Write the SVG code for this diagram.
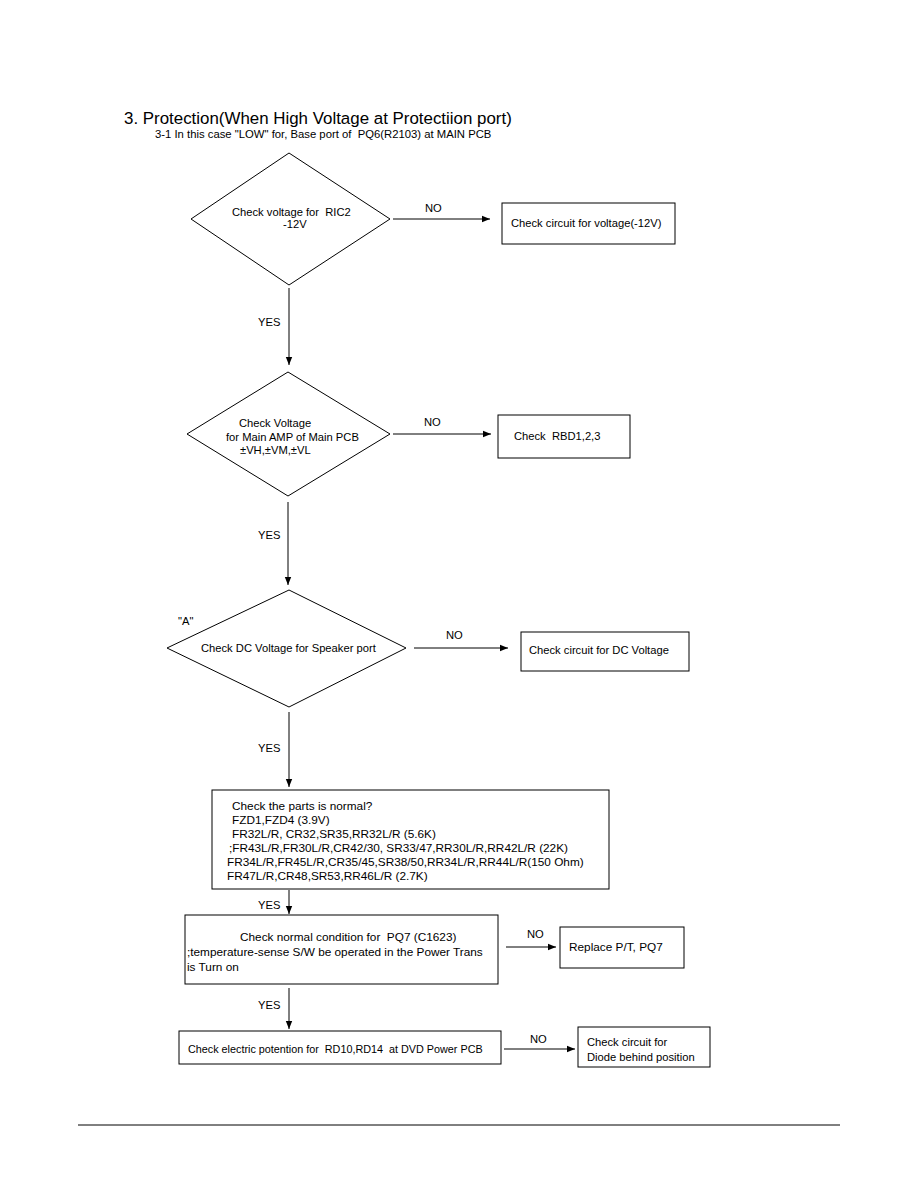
<svg xmlns="http://www.w3.org/2000/svg" width="918" height="1188" viewBox="0 0 918 1188">
<style>
text{font-family:"Liberation Sans",Arial,sans-serif;fill:#000;font-size:11.2px;white-space:pre}
.t{font-size:16.9px}
.s{font-size:11.3px}
.m{font-size:11.8px}
.n{fill:#fff;stroke:#000;stroke-width:1}
.c{stroke:#000;stroke-width:1;fill:none}
</style>
<defs>
<marker id="ah" viewBox="0 0 10 10" refX="10" refY="5" markerWidth="8" markerHeight="8" markerUnits="userSpaceOnUse" orient="auto">
<path d="M0,1 L10,5 L0,9 z" fill="#000"/>
</marker>
</defs>
<rect width="918" height="1188" fill="#fff"/>
<text class="t" x="124" y="124">3. Protection(When High Voltage at Protectiion port)</text>
<text class="s" x="155" y="138" xml:space="preserve">3-1 In this case "LOW" for, Base port of  PQ6(R2103) at MAIN PCB</text>

<g id="connectors">
<line class="c" x1="393" y1="219" x2="490" y2="219" marker-end="url(#ah)"/>
<line class="c" x1="289" y1="288" x2="289" y2="365" marker-end="url(#ah)"/>
<line class="c" x1="393" y1="434" x2="491" y2="434" marker-end="url(#ah)"/>
<line class="c" x1="288" y1="502" x2="288" y2="585" marker-end="url(#ah)"/>
<line class="c" x1="414" y1="648" x2="508" y2="648" marker-end="url(#ah)"/>
<line class="c" x1="289" y1="712" x2="289" y2="787" marker-end="url(#ah)"/>
<line class="c" x1="289" y1="890" x2="289" y2="914" marker-end="url(#ah)"/>
<line class="c" x1="506" y1="947" x2="556" y2="947" marker-end="url(#ah)"/>
<line class="c" x1="289" y1="988" x2="289" y2="1029" marker-end="url(#ah)"/>
<line class="c" x1="504" y1="1049" x2="575" y2="1049" marker-end="url(#ah)"/>
<text x="425" y="212">NO</text>
<text x="258" y="326">YES</text>
<text x="424" y="426">NO</text>
<text x="258" y="539">YES</text>
<text x="446" y="639">NO</text>
<text x="258" y="752">YES</text>
<text x="258" y="909">YES</text>
<text x="527" y="938">NO</text>
<text x="530" y="1043">NO</text>
<text x="258" y="1009">YES</text>
</g>

<g id="d1">
<polygon class="n" points="289,153 390,219 289,285 191,219"/>
<text x="232" y="216" xml:space="preserve">Check voltage for  RIC2</text>
<text x="283" y="228">-12V</text>
</g>
<g id="b1">
<rect class="n" x="502" y="203" width="173" height="41"/>
<text x="511" y="227">Check circuit for voltage(-12V)</text>
</g>

<g id="d2">
<polygon class="n" points="288,372 390,434 288,496 187,434"/>
<text x="239" y="427">Check Voltage</text>
<text x="226" y="441">for Main AMP of Main PCB</text>
<text x="240" y="454">±VH,±VM,±VL</text>
</g>
<g id="b2">
<rect class="n" x="498" y="415" width="132" height="43"/>
<text x="514" y="440" xml:space="preserve">Check  RBD1,2,3</text>
</g>

<g id="d3">
<polygon class="n" points="289,590 406,648 289,707 167,648"/>
<text x="178" y="625">"A"</text>
<text x="201" y="652">Check DC Voltage for Speaker port</text>
</g>
<g id="b3">
<rect class="n" x="521" y="632" width="168" height="39"/>
<text x="529" y="654">Check circuit for DC Voltage</text>
</g>

<g id="b4">
<rect class="n" x="212" y="790" width="397" height="99"/>
<text class="m" x="232" y="810">Check the parts is normal?</text>
<text class="m" x="232" y="824">FZD1,FZD4 (3.9V)</text>
<text class="m" x="232" y="838">FR32L/R, CR32,SR35,RR32L/R (5.6K)</text>
<text class="m" x="229" y="852">;FR43L/R,FR30L/R,CR42/30, SR33/47,RR30L/R,RR42L/R (22K)</text>
<text class="m" x="227" y="866">FR34L/R,FR45L/R,CR35/45,SR38/50,RR34L/R,RR44L/R(150 Ohm)</text>
<text class="m" x="227" y="880">FR47L/R,CR48,SR53,RR46L/R (2.7K)</text>
</g>

<g id="b5">
<rect class="n" x="185" y="915" width="313" height="69"/>
<text class="m" x="240" y="941" xml:space="preserve">Check normal condition for  PQ7 (C1623)</text>
<text class="m" x="187" y="956">;temperature-sense S/W be operated in the Power Trans</text>
<text class="m" x="187" y="971">is Turn on</text>
</g>
<g id="b6">
<rect class="n" x="560" y="927" width="124" height="41"/>
<text class="m" x="569" y="951">Replace P/T, PQ7</text>
</g>

<g id="b7">
<rect class="n" x="179" y="1031" width="322" height="33"/>
<text x="188" y="1053" style="font-size:10.8px" xml:space="preserve">Check electric potention for  RD10,RD14  at DVD Power PCB</text>
</g>
<g id="b8">
<rect class="n" x="578" y="1027" width="132" height="40"/>
<text x="587" y="1046">Check circuit for</text>
<text x="587" y="1061">Diode behind position</text>
</g>

<line x1="78" y1="1125" x2="840" y2="1125" stroke="#000" stroke-width="1"/>
</svg>
